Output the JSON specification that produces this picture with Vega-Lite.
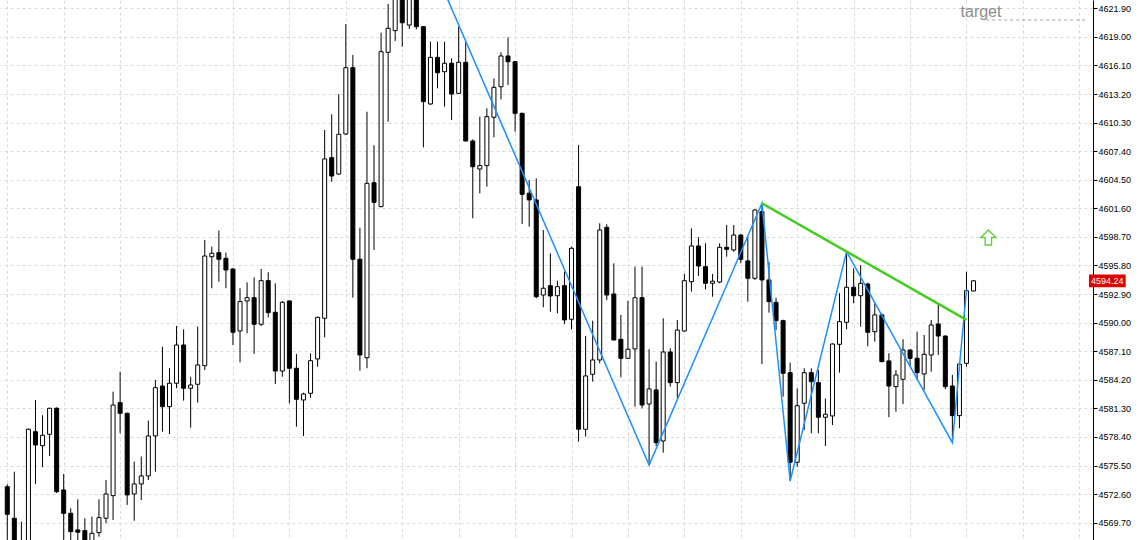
{
  "$schema": "https://vega.github.io/schema/vega-lite/v6.json",
  "width": 1093,
  "height": 540,
  "autosize": {"type": "none"},
  "padding": {"left": 0, "top": 0, "right": 47, "bottom": 0},
  "background": "white",
  "view": {"stroke": null},
  "config": {
    "axis": {"gridColor": "#d9d9d9", "gridDash": [3, 3], "gridWidth": 1, "labelOverlap": false}
  },
  "datasets": {
    "candles": [
      {"i":0,"o":4573.35,"h":4573.6,"l":4567.0,"c":4570.55},
      {"i":1,"o":4570.15,"h":4574.87,"l":4566.5,"c":4567.2},
      {"i":2,"o":4567.3,"h":4569.8,"l":4566.8,"c":4567.5},
      {"i":3,"o":4566.9,"h":4579.25,"l":4566.5,"c":4579.18},
      {"i":4,"o":4578.93,"h":4582.15,"l":4573.63,"c":4577.58},
      {"i":5,"o":4577.51,"h":4580.6,"l":4575.32,"c":4578.57},
      {"i":6,"o":4578.67,"h":4581.35,"l":4576.47,"c":4581.31},
      {"i":7,"o":4581.31,"h":4581.4,"l":4572.7,"c":4572.85},
      {"i":8,"o":4573.02,"h":4574.64,"l":4567.5,"c":4570.65},
      {"i":9,"o":4570.65,"h":4571.16,"l":4567.6,"c":4568.79},
      {"i":10,"o":4568.96,"h":4572.07,"l":4567.2,"c":4568.73},
      {"i":11,"o":4568.89,"h":4570.15,"l":4567.0,"c":4567.6},
      {"i":12,"o":4567.6,"h":4570.31,"l":4567.3,"c":4568.62},
      {"i":13,"o":4568.69,"h":4572.07,"l":4568.28,"c":4570.21},
      {"i":14,"o":4570.15,"h":4574.03,"l":4569.64,"c":4572.61},
      {"i":15,"o":4572.44,"h":4582.99,"l":4569.97,"c":4581.64},
      {"i":16,"o":4581.88,"h":4585.02,"l":4578.77,"c":4580.8},
      {"i":17,"o":4580.8,"h":4580.85,"l":4571.5,"c":4572.51},
      {"i":18,"o":4572.61,"h":4575.89,"l":4569.9,"c":4573.63},
      {"i":19,"o":4573.63,"h":4576.4,"l":4572.0,"c":4574.44},
      {"i":20,"o":4574.44,"h":4580.05,"l":4574.03,"c":4578.5},
      {"i":21,"o":4578.5,"h":4584.18,"l":4574.87,"c":4583.4},
      {"i":22,"o":4583.57,"h":4587.56,"l":4578.93,"c":4581.47},
      {"i":23,"o":4581.47,"h":4585.37,"l":4578.7,"c":4583.85},
      {"i":24,"o":4583.85,"h":4589.66,"l":4583.34,"c":4587.73},
      {"i":25,"o":4587.73,"h":4589.32,"l":4582.08,"c":4583.34},
      {"i":26,"o":4583.34,"h":4584.51,"l":4579.34,"c":4583.67},
      {"i":27,"o":4583.74,"h":4589.59,"l":4581.88,"c":4585.7},
      {"i":28,"o":4585.63,"h":4598.39,"l":4585.19,"c":4596.76},
      {"i":29,"o":4596.69,"h":4597.71,"l":4593.49,"c":4597.04},
      {"i":30,"o":4597.1,"h":4599.33,"l":4594.15,"c":4596.43},
      {"i":31,"o":4596.53,"h":4597.1,"l":4593.49,"c":4595.34},
      {"i":32,"o":4595.44,"h":4595.51,"l":4587.73,"c":4589.02},
      {"i":33,"o":4589.15,"h":4593.49,"l":4585.97,"c":4592.13},
      {"i":34,"o":4592.2,"h":4594.09,"l":4588.92,"c":4592.53},
      {"i":35,"o":4592.53,"h":4594.6,"l":4586.82,"c":4589.83},
      {"i":36,"o":4589.83,"h":4595.44,"l":4589.66,"c":4594.26},
      {"i":37,"o":4594.26,"h":4595.11,"l":4590.54,"c":4591.01},
      {"i":38,"o":4591.05,"h":4593.99,"l":4583.77,"c":4585.09},
      {"i":39,"o":4585.09,"h":4592.2,"l":4584.51,"c":4592.06},
      {"i":40,"o":4592.2,"h":4592.25,"l":4581.82,"c":4585.37},
      {"i":41,"o":4585.37,"h":4586.82,"l":4579.44,"c":4582.22},
      {"i":42,"o":4582.15,"h":4582.89,"l":4578.5,"c":4582.76},
      {"i":43,"o":4582.83,"h":4586.89,"l":4582.38,"c":4586.14},
      {"i":44,"o":4586.31,"h":4590.6,"l":4585.53,"c":4590.54},
      {"i":45,"o":4590.44,"h":4609.55,"l":4588.51,"c":4606.61},
      {"i":46,"o":4606.74,"h":4611.14,"l":4604.3,"c":4604.88},
      {"i":47,"o":4605.08,"h":4613.17,"l":4605.0,"c":4609.11},
      {"i":48,"o":4609.14,"h":4620.3,"l":4609.04,"c":4615.87},
      {"i":49,"o":4615.87,"h":4617.16,"l":4592.53,"c":4596.43},
      {"i":50,"o":4596.43,"h":4599.63,"l":4585.12,"c":4586.72},
      {"i":51,"o":4586.44,"h":4611.4,"l":4585.37,"c":4604.14},
      {"i":52,"o":4604.2,"h":4608.0,"l":4597.37,"c":4602.21},
      {"i":53,"o":4601.77,"h":4619.42,"l":4601.7,"c":4617.49},
      {"i":54,"o":4617.43,"h":4622.34,"l":4610.39,"c":4619.87},
      {"i":55,"o":4619.63,"h":4626.0,"l":4618.59,"c":4624.5},
      {"i":56,"o":4625.0,"h":4627.0,"l":4618.0,"c":4620.43},
      {"i":57,"o":4620.2,"h":4631.8,"l":4619.8,"c":4626.0},
      {"i":58,"o":4626.0,"h":4627.0,"l":4619.77,"c":4620.03},
      {"i":59,"o":4620.03,"h":4620.1,"l":4607.79,"c":4612.42},
      {"i":60,"o":4612.19,"h":4618.51,"l":4612.08,"c":4616.92},
      {"i":61,"o":4616.92,"h":4618.51,"l":4613.78,"c":4615.36},
      {"i":62,"o":4615.46,"h":4618.51,"l":4611.91,"c":4616.32},
      {"i":63,"o":4616.32,"h":4616.82,"l":4610.56,"c":4613.2},
      {"i":64,"o":4613.27,"h":4620.03,"l":4613.2,"c":4616.42},
      {"i":65,"o":4616.42,"h":4618.51,"l":4608.4,"c":4608.43},
      {"i":66,"o":4608.43,"h":4608.6,"l":4600.59,"c":4605.82},
      {"i":67,"o":4605.59,"h":4610.9,"l":4603.13,"c":4605.93},
      {"i":68,"o":4605.93,"h":4611.75,"l":4603.79,"c":4610.9},
      {"i":69,"o":4610.84,"h":4614.79,"l":4608.81,"c":4613.88},
      {"i":70,"o":4613.94,"h":4617.43,"l":4612.66,"c":4617.06},
      {"i":71,"o":4617.06,"h":4618.95,"l":4614.11,"c":4616.48},
      {"i":72,"o":4616.48,"h":4616.55,"l":4609.38,"c":4611.24},
      {"i":73,"o":4611.24,"h":4611.3,"l":4600.01,"c":4603.02},
      {"i":74,"o":4603.13,"h":4604.47,"l":4599.74,"c":4602.45},
      {"i":75,"o":4602.45,"h":4604.64,"l":4592.47,"c":4592.63},
      {"i":76,"o":4592.8,"h":4599.4,"l":4591.56,"c":4593.49},
      {"i":77,"o":4593.75,"h":4597.04,"l":4591.11,"c":4592.7},
      {"i":78,"o":4592.73,"h":4594.26,"l":4590.95,"c":4593.65},
      {"i":79,"o":4593.75,"h":4595.17,"l":4589.86,"c":4590.27},
      {"i":80,"o":4590.34,"h":4597.71,"l":4589.32,"c":4597.54},
      {"i":81,"o":4603.79,"h":4608.03,"l":4577.92,"c":4579.18},
      {"i":82,"o":4579.18,"h":4588.64,"l":4578.43,"c":4584.59},
      {"i":83,"o":4584.76,"h":4590.2,"l":4584.01,"c":4586.21},
      {"i":84,"o":4586.21,"h":4600.08,"l":4585.87,"c":4599.4},
      {"i":85,"o":4599.67,"h":4599.98,"l":4592.3,"c":4592.8},
      {"i":86,"o":4592.91,"h":4596.02,"l":4588.2,"c":4588.24},
      {"i":87,"o":4588.31,"h":4590.78,"l":4584.45,"c":4586.38},
      {"i":88,"o":4586.38,"h":4592.2,"l":4586.3,"c":4587.3},
      {"i":89,"o":4587.33,"h":4595.68,"l":4581.47,"c":4592.53},
      {"i":90,"o":4592.53,"h":4595.68,"l":4581.31,"c":4581.64},
      {"i":91,"o":4581.74,"h":4587.3,"l":4575.55,"c":4583.27},
      {"i":92,"o":4583.17,"h":4586.04,"l":4577.48,"c":4577.82},
      {"i":93,"o":4577.99,"h":4590.44,"l":4576.8,"c":4587.02},
      {"i":94,"o":4587.02,"h":4587.4,"l":4583.5,"c":4583.91},
      {"i":95,"o":4583.91,"h":4590.27,"l":4582.32,"c":4589.25},
      {"i":96,"o":4589.15,"h":4594.94,"l":4589.08,"c":4594.26},
      {"i":97,"o":4594.15,"h":4599.57,"l":4593.14,"c":4597.78},
      {"i":98,"o":4597.78,"h":4598.66,"l":4594.73,"c":4595.75},
      {"i":99,"o":4595.68,"h":4598.05,"l":4593.38,"c":4593.99},
      {"i":100,"o":4593.99,"h":4594.94,"l":4592.63,"c":4594.2},
      {"i":101,"o":4594.12,"h":4598.05,"l":4593.99,"c":4597.64},
      {"i":102,"o":4597.64,"h":4599.91,"l":4596.69,"c":4597.44},
      {"i":103,"o":4597.37,"h":4599.91,"l":4597.2,"c":4598.89},
      {"i":104,"o":4598.89,"h":4599.0,"l":4596.02,"c":4596.43},
      {"i":105,"o":4596.26,"h":4598.72,"l":4592.12,"c":4594.5},
      {"i":106,"o":4594.5,"h":4601.5,"l":4594.33,"c":4601.43},
      {"i":107,"o":4601.26,"h":4602.11,"l":4585.8,"c":4594.33},
      {"i":108,"o":4594.33,"h":4596.18,"l":4591.01,"c":4592.13},
      {"i":109,"o":4592.06,"h":4592.53,"l":4589.25,"c":4590.2},
      {"i":110,"o":4590.2,"h":4590.3,"l":4582.49,"c":4584.86},
      {"i":111,"o":4584.92,"h":4585.94,"l":4573.93,"c":4575.83},
      {"i":112,"o":4575.83,"h":4583.34,"l":4575.38,"c":4581.57},
      {"i":113,"o":4581.82,"h":4585.37,"l":4579.11,"c":4584.92},
      {"i":114,"o":4584.92,"h":4585.37,"l":4578.77,"c":4584.01},
      {"i":115,"o":4583.91,"h":4585.19,"l":4578.77,"c":4580.4},
      {"i":116,"o":4580.4,"h":4582.3,"l":4577.48,"c":4580.7},
      {"i":117,"o":4580.53,"h":4587.9,"l":4579.61,"c":4587.83},
      {"i":118,"o":4587.8,"h":4592.98,"l":4584.92,"c":4590.1},
      {"i":119,"o":4590.03,"h":4597.2,"l":4589.32,"c":4593.59},
      {"i":120,"o":4593.59,"h":4595.51,"l":4591.96,"c":4592.73},
      {"i":121,"o":4592.73,"h":4595.85,"l":4589.59,"c":4593.99},
      {"i":122,"o":4593.92,"h":4594.05,"l":4587.6,"c":4589.02},
      {"i":123,"o":4589.08,"h":4591.96,"l":4588.07,"c":4590.78},
      {"i":124,"o":4590.78,"h":4590.95,"l":4585.98,"c":4586.04},
      {"i":125,"o":4586.11,"h":4586.89,"l":4580.4,"c":4583.57},
      {"i":126,"o":4583.5,"h":4585.19,"l":4580.96,"c":4584.69},
      {"i":127,"o":4584.25,"h":4588.31,"l":4581.74,"c":4587.22},
      {"i":128,"o":4587.22,"h":4587.3,"l":4585.53,"c":4586.38},
      {"i":129,"o":4586.38,"h":4589.08,"l":4584.18,"c":4584.92},
      {"i":130,"o":4584.79,"h":4588.75,"l":4583.17,"c":4586.79},
      {"i":131,"o":4586.72,"h":4590.27,"l":4585.02,"c":4589.76},
      {"i":132,"o":4589.86,"h":4591.79,"l":4586.72,"c":4588.64},
      {"i":133,"o":4588.64,"h":4588.7,"l":4583.24,"c":4583.5},
      {"i":134,"o":4583.57,"h":4584.69,"l":4577.82,"c":4580.56},
      {"i":135,"o":4580.56,"h":4585.9,"l":4579.28,"c":4585.8},
      {"i":136,"o":4585.87,"h":4595.17,"l":4585.53,"c":4593.24},
      {"i":137,"o":4593.21,"h":4594.3,"l":4593.2,"c":4594.24}
    ],
    "zigzag": [
      {"i":57,"p":4631.8},{"i":91,"p":4575.55},{"i":107,"p":4602.11},{"i":111,"p":4573.93},
      {"i":119,"p":4597.2},{"i":134,"p":4577.82},{"i":136,"p":4593.3}
    ],
    "trend": [{"i":107,"p":4602.11},{"i":136,"p":4590.27}],
    "target": [{"i1":138.8,"i2":153.23,"p":4620.71,"ti":138.06,"tp":4621.5,"label":"target"}],
    "signal": [{"i":139.1,"p":4598.64}],
    "bid": [{"p":4594.24,"x1":153.37,"x2":158.57,"lo":4593.6,"hi":4594.88,"xm":155.97,"label":"4594.24"}]
  },
  "layer": [
    {
      "data": {"name": "candles"},
      "mark": {"type": "rule", "color": "#000000", "strokeWidth": 1, "clip": true},
      "encoding": {
        "x": {"field": "i", "type": "quantitative",
              "scale": {"domain": [-0.322, 153.23], "nice": false, "zero": false},
              "axis": {"values": [0,4,8,12,16,20,24,28,32,36,40,44,48,52,56,60,64,68,72,76,80,84,88,92,96,100,104,108,112,116,120,124,128,132,136,140,144,148,152],
                       "grid": true, "labels": false, "ticks": false, "domain": false, "title": null}},
        "y": {"field": "l", "type": "quantitative",
              "scale": {"domain": [4567.94, 4622.74], "nice": false, "zero": false},
              "axis": {"orient": "right", "title": null, "format": ".2f", "grid": true,
                       "labelOverlap": false, "labelBound": false, "labelSeparation": 0, "tickCount": 19,
                       "labelFont": "Liberation Sans", "labelFontSize": 9, "labelColor": "#000000",
                       "tickColor": "#000000", "domainColor": "#000000", "tickSize": 4, "labelPadding": 1, "domainWidth": 1,
                       "values": [4569.7,4572.6,4575.5,4578.4,4581.3,4584.2,4587.1,4590.0,4592.9,4595.8,4598.7,4601.6,4604.5,4607.4,4610.3,4613.2,4616.1,4619.0,4621.9]}},
        "y2": {"field": "h"}
      }
    },
    {
      "mark": {"type": "rule", "color": "#e82020", "strokeWidth": 1},
      "encoding": {"y": {"datum": 4594.24, "type": "quantitative"}}
    },
    {
      "mark": {"type": "rule", "color": "#4a4a4a", "strokeWidth": 1},
      "encoding": {"x": {"datum": -0.08, "type": "quantitative"}}
    },
    {
      "data": {"name": "candles"},
      "mark": {"type": "bar", "orient": "vertical", "size": 4, "stroke": "#000000", "strokeWidth": 1, "clip": true},
      "encoding": {
        "x": {"field": "i", "type": "quantitative"},
        "y": {"field": "o", "type": "quantitative"},
        "y2": {"field": "c"},
        "fill": {"condition": {"test": "datum.c >= datum.o", "value": "#ffffff"}, "value": "#000000"}
      }
    },
    {
      "data": {"name": "zigzag"},
      "mark": {"type": "line", "color": "#1e90ff", "strokeWidth": 1.5, "clip": true},
      "encoding": {
        "x": {"field": "i", "type": "quantitative"},
        "y": {"field": "p", "type": "quantitative"}
      }
    },
    {
      "data": {"name": "trend"},
      "mark": {"type": "line", "color": "#44cc22", "strokeWidth": 2.5, "clip": true},
      "encoding": {
        "x": {"field": "i", "type": "quantitative"},
        "y": {"field": "p", "type": "quantitative"}
      }
    },
    {
      "data": {"name": "target"},
      "mark": {"type": "rule", "color": "#a0a0a0", "strokeWidth": 1, "strokeDash": [3, 3]},
      "encoding": {
        "x": {"field": "i1", "type": "quantitative"},
        "x2": {"field": "i2"},
        "y": {"field": "p", "type": "quantitative"}
      }
    },
    {
      "data": {"name": "target"},
      "mark": {"type": "text", "font": "Liberation Sans", "fontSize": 16, "color": "#8c8c8c", "align": "center", "baseline": "middle"},
      "encoding": {
        "x": {"field": "ti", "type": "quantitative"},
        "y": {"field": "tp", "type": "quantitative"},
        "text": {"field": "label"}
      }
    },
    {
      "data": {"name": "signal"},
      "mark": {"type": "point", "shape": "M0,-1L1,0L0.42,0L0.42,1L-0.42,1L-0.42,0L-1,0Z", "size": 230, "filled": false, "fill": "#ffffff", "fillOpacity": 1, "stroke": "#66cc44", "strokeWidth": 1.4, "opacity": 1},
      "encoding": {
        "x": {"field": "i", "type": "quantitative"},
        "y": {"field": "p", "type": "quantitative"}
      }
    },
    {
      "data": {"name": "bid"},
      "mark": {"type": "rect", "color": "#dd0000"},
      "encoding": {
        "x": {"field": "x1", "type": "quantitative"},
        "x2": {"field": "x2"},
        "y": {"field": "lo", "type": "quantitative"},
        "y2": {"field": "hi"}
      }
    },
    {
      "data": {"name": "bid"},
      "mark": {"type": "text", "font": "Liberation Sans", "fontSize": 9, "color": "#ffffff", "align": "center", "baseline": "middle"},
      "encoding": {
        "x": {"field": "xm", "type": "quantitative"},
        "y": {"field": "p", "type": "quantitative"},
        "text": {"field": "label"}
      }
    }
  ]
}
